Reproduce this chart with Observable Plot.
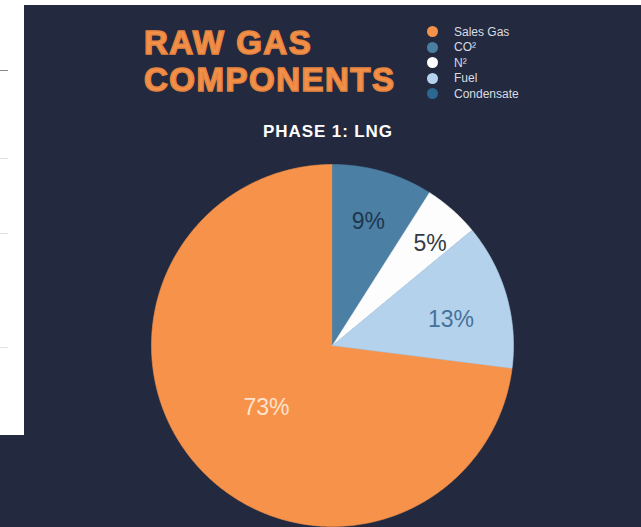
<!DOCTYPE html>
<html>
<head>
<meta charset="utf-8">
<script src="https://cdn.jsdelivr.net/npm/d3@7"></script>
<script src="https://cdn.jsdelivr.net/npm/@observablehq/plot@0.6"></script>
<style>
  html, body { margin: 0; padding: 0; background: #ffffff; }
  #page { position: relative; width: 641px; height: 527px; overflow: hidden; background: #ffffff; font-family: "Liberation Sans", Arial, sans-serif; }
  #navy { position: absolute; left: 0; top: 5px; width: 641px; height: 522px; background: #232a3f; }
  #whitePanel { position: absolute; left: 0; top: 0; width: 24px; height: 435px; background: #ffffff; }
  .tick { position: absolute; left: 0; height: 1px; }
  #chart { position: absolute; left: 0; top: 0; }
  .title { position: absolute; left: 144px; font-size: 33px; line-height: normal; font-weight: bold; color: #f3904a; -webkit-text-stroke: 1.6px #e8853f; letter-spacing: 1.5px; white-space: nowrap; }
  #subtitle { position: absolute; left: 200px; width: 256px; text-align: center; top: 122px; font-size: 17px; line-height: 19px; font-weight: bold; color: #ffffff; letter-spacing: 0.9px; white-space: nowrap; }
  #legend { position: absolute; left: 427px; top: 24px; }
  .row { display: flex; align-items: center; height: 15.5px; }
  .dot { width: 11px; height: 11px; border-radius: 50%; margin-right: 16px; flex: none; }
  .lab { font-size: 12px; color: #d9dce3; white-space: nowrap; }
</style>
</head>
<body>
<div id="page">
  <div id="navy"></div>
  <div id="whitePanel"></div>
  <div class="tick" style="top:70px;width:8px;background:#8a8a8a;"></div>
  <div class="tick" style="top:158px;width:8px;background:#e2e2e2;"></div>
  <div class="tick" style="top:233px;width:8px;background:#e2e2e2;"></div>
  <div class="tick" style="top:347px;width:8px;background:#e2e2e2;"></div>
  <div id="chart"></div>
  <div class="title" id="title1" style="top:24px;"></div>
  <div class="title" id="title2" style="top:61px;"></div>
  <div id="subtitle"></div>
  <div id="legend"></div>
</div>
<script>
// ---- data ----
const categories = ["Sales Gas", "CO²", "N²", "Fuel", "Condensate"];
const values = [73, 9, 5, 13, 0];
const titleLines = ["RAW GAS", "COMPONENTS"];
const subtitleText = "PHASE 1: LNG";

// ---- styles (not data) ----
const sliceColors = {"Sales Gas": "#f6924a", "CO²": "#4b80a4", "N²": "#fdfdfd", "Fuel": "#b5d2ec", "Condensate": "#2c6792"};
const legendColors = {"Sales Gas": "#f5924a", "CO²": "#4a7fa2", "N²": "#ffffff", "Fuel": "#b6d3ee", "Condensate": "#2c6792"};
const labelColors = {"Sales Gas": "#fde3cc", "CO²": "#1f3650", "N²": "#343b46", "Fuel": "#44729b", "Condensate": "#ffffff"};
const labelRadius = {"Sales Gas": 0.5, "CO²": 0.71, "N²": 0.78, "Fuel": 0.67, "Condensate": 0.7};
const labelAngleShift = {"Sales Gas": -0.03, "CO²": 0, "N²": 0.04, "Fuel": 0.065, "Condensate": 0};

const W = 641, H = 527, cx = 332, cy = 345, R = 181;

document.getElementById("title1").textContent = titleLines[0];
document.getElementById("title2").textContent = titleLines[1];
document.getElementById("subtitle").textContent = subtitleText;

// legend
const legend = document.getElementById("legend");
categories.forEach(c => {
  const row = document.createElement("div");
  row.className = "row";
  row.innerHTML = `<div class="dot" style="background:${legendColors[c]}"></div><div class="lab">${c}</div>`;
  legend.appendChild(row);
});

// pie geometry from data
const total = d3.sum(values);
const start = -2 * Math.PI * values[0] / total;
const pie = d3.pie().sort(null).value(d => d.value).startAngle(start).endAngle(start + 2 * Math.PI);
const arcs = pie(categories.map((c, i) => ({cat: c, value: values[i]}))).filter(a => a.data.value > 0);

function slicePoints(a) {
  const pts = [{x: 0, y: 0}];
  const n = Math.max(2, Math.ceil((a.endAngle - a.startAngle) / (Math.PI / 360)));
  for (let k = 0; k <= n; k++) {
    const t = a.startAngle + (a.endAngle - a.startAngle) * k / n;
    pts.push({x: Math.sin(t), y: Math.cos(t)});
  }
  pts.push({x: 0, y: 0});
  return pts;
}

const marks = [];
arcs.forEach(a => {
  const col = sliceColors[a.data.cat];
  marks.push(Plot.line(slicePoints(a), {x: "x", y: "y", fill: col, stroke: col, strokeWidth: 0.6}));
});
arcs.forEach(a => {
  const mid = (a.startAngle + a.endAngle) / 2 + labelAngleShift[a.data.cat];
  const r = labelRadius[a.data.cat];
  marks.push(Plot.text([{x: r * Math.sin(mid), y: r * Math.cos(mid), t: Math.round(a.data.value / total * 100) + "%"}],
    {x: "x", y: "y", text: "t", fill: labelColors[a.data.cat], fontSize: 23, fontFamily: "Liberation Sans, Arial, sans-serif"}));
});

const chart = Plot.plot({
  width: W, height: H, margin: 0,
  x: {domain: [(0 - cx) / R, (W - cx) / R], axis: null},
  y: {domain: [(cy - H) / R, cy / R], axis: null},
  style: {background: "transparent", overflow: "visible"},
  marks
});
document.getElementById("chart").appendChild(chart);
</script>
</body>
</html>
